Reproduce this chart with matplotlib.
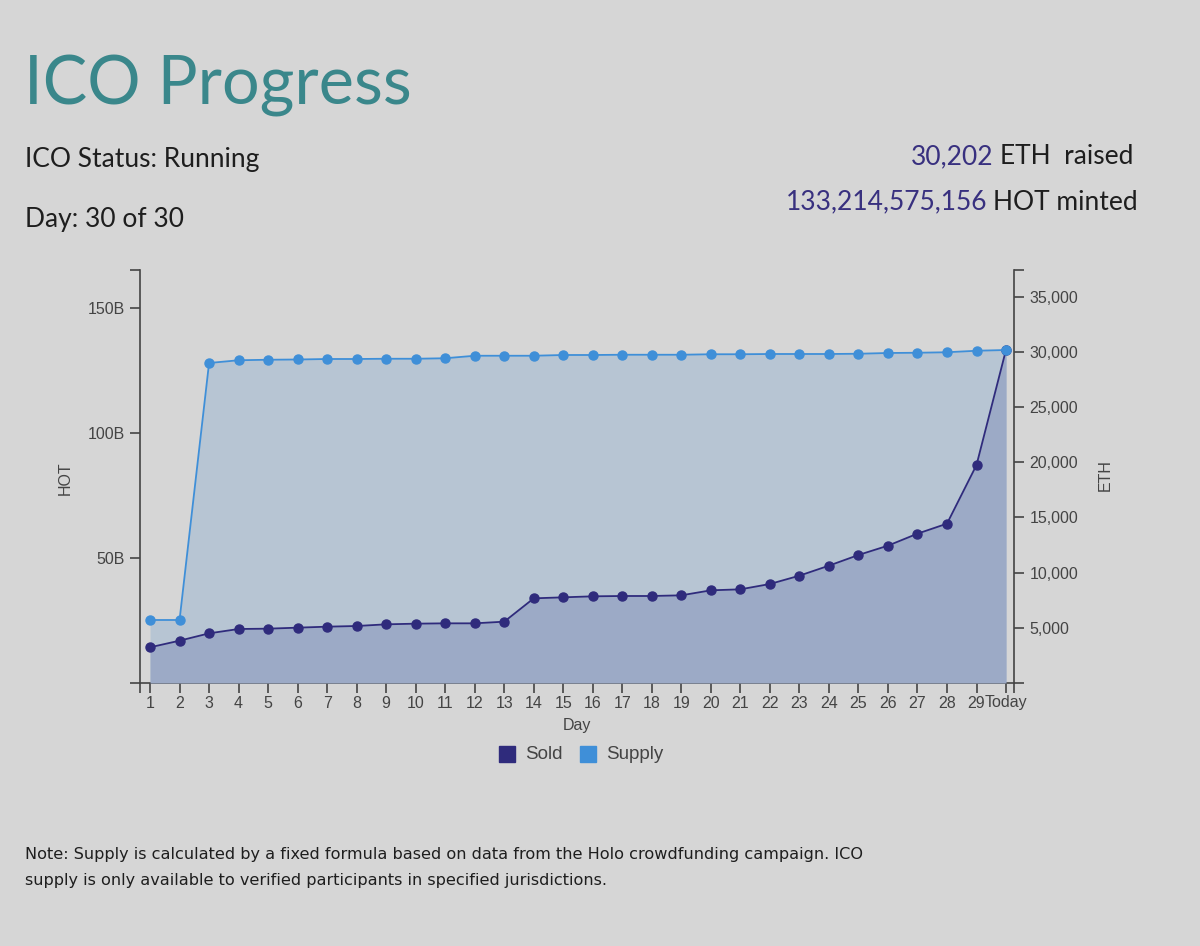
import matplotlib
matplotlib.use("Agg")
import matplotlib.pyplot as plt
from matplotlib.patches import Rectangle

days = list(range(1, 31))
day_labels = [str(d) for d in range(1, 30)] + ["Today"]
supply_hot_b = [25.2, 25.2, 128.0, 129.1, 129.3, 129.4, 129.6, 129.6, 129.7, 129.7,
                129.9, 130.9, 130.9, 130.9, 131.2, 131.2, 131.3, 131.3, 131.3, 131.5,
                131.5, 131.6, 131.6, 131.6, 131.7, 132.0, 132.1, 132.3, 132.9, 133.2]
sold_eth = [3235, 3835, 4500, 4894, 4924, 5015, 5105, 5166, 5317, 5377,
            5408, 5408, 5559, 7673, 7764, 7855, 7885, 7885, 7946, 8399,
            8489, 8972, 9727, 10634, 11601, 12447, 13535, 14441, 19757, 30202]
hot_ticks = [50, 100, 150]
hot_tick_labels = ["50B", "100B", "150B"]
eth_ticks = [5000, 10000, 15000, 20000, 25000, 30000, 35000]
eth_tick_labels = ["5,000", "10,000", "15,000", "20,000", "25,000", "30,000", "35,000"]

BG = "#d6d6d6"
SUPPLY_C = "#3f8fd8"
SOLD_C = "#2f2b7c"
SUPPLY_FILL = "#b7c5d3"
SOLD_FILL = "#9caac6"
AX_C = "#444444"

fig = plt.figure(figsize=(12, 9.46), dpi=100)
fig.patch.set_facecolor(BG)

L, R, B, T = 140/1200, 1014/1200, 1 - 683/946, 1 - 270/946
ax1 = fig.add_axes([L, B, R - L, T - B])
ax1.set_facecolor("none")
ax2 = ax1.twinx()
ax2.set_facecolor("none")

xmin, xmax = 0.66, 30.27
ax1.set_xlim(xmin, xmax)
ax1.set_ylim(0, 165.2)
ax2.set_ylim(0, 37430)

ax1.fill_between(days, 0, supply_hot_b, color=SUPPLY_FILL, lw=0, zorder=1)
ax2.fill_between(days, 0, sold_eth, color=SOLD_FILL, lw=0, zorder=1)
ax2.plot(days, sold_eth, color=SOLD_C, lw=1.3, marker="o", ms=6.5, zorder=3)
ax2.plot(days, supply_hot_b, color=SUPPLY_C, lw=1.3, marker="o", ms=6.5, zorder=4,
         transform=ax1.transData)

tick_font = dict(family=["Liberation Sans", "DejaVu Sans"], size=11.5)

for ax in (ax1, ax2):
    ax.spines["top"].set_visible(False)
    for sp in ax.spines.values():
        sp.set_color(AX_C)
        sp.set_linewidth(1.2)
ax1.spines["right"].set_visible(False)
ax2.spines["left"].set_visible(False)
ax2.spines["bottom"].set_visible(False)

ax1.set_xticks(days)
ax1.set_xticklabels(day_labels, **tick_font)
ax1.set_xticks([xmin, xmax], minor=True)
ax1.set_yticks(hot_ticks)
ax1.set_yticklabels(hot_tick_labels, **tick_font)
ax1.set_yticks([0, 165.2], minor=True)
ax2.set_yticks(eth_ticks)
ax2.set_yticklabels(eth_tick_labels, **tick_font)
ax2.set_yticks([0, 37430], minor=True)

ax1.tick_params(axis="both", which="both", length=7, width=1.2, color=AX_C,
                labelcolor=AX_C, direction="out")
ax1.tick_params(axis="x", which="major", pad=2)
ax1.tick_params(axis="y", which="major", pad=4)
ax2.tick_params(axis="y", which="both", length=7, width=1.2, color=AX_C,
                labelcolor=AX_C, direction="out", pad=4)

lab_font = dict(fontsize=11.5, family=["Liberation Sans"], color=AX_C)
fig.text(577/1200, 1 - 725/946, "Day", ha="center", va="center", **lab_font)
fig.text(65/1200, 1 - 478/946, "HOT", rotation=90, ha="center", va="center", **lab_font)
fig.text(1105/1200, 1 - 475/946, "ETH", rotation=90, ha="center", va="center", **lab_font)

# legend
for xs, col, lab in [(499, SOLD_C, "Sold"), (580, SUPPLY_C, "Supply")]:
    fig.patches.append(Rectangle((xs/1200, 1 - 762/946), 16/1200, 16/946,
                                 transform=fig.transFigure, color=col, zorder=5))
    fig.text((xs + 26)/1200, 1 - 754/946, lab, ha="left", va="center",
             fontsize=13.5, family=["Liberation Sans"], color=AX_C)

# header
TITLE_C = "#3a878b"
fig.text(24/1200, 1 - 86/946, "ICO Progress", ha="left", va="center",
         fontsize=48, family=["Lato", "DejaVu Sans"], fontweight="normal", color=TITLE_C)
head_font = dict(family=["Lato", "DejaVu Sans"], fontsize=19)
fig.text(25/1200, 1 - 160/946, "ICO Status: Running", ha="left", va="center",
         color="#1e1e1e", **head_font)
fig.text(25/1200, 1 - 219/946, "Day: 30 of 30", ha="left", va="center",
         color="#1e1e1e", **head_font)

NUM_C = "#38307f"
t1 = fig.text(1133/1200, 1 - 157/946, "ETH  raised", ha="right", va="center",
              color="#1e1e1e", **head_font)
t2 = fig.text(1138/1200, 1 - 202/946, "HOT minted", ha="right", va="center",
              color="#1e1e1e", **head_font)
fig.canvas.draw()
r = fig.canvas.get_renderer()
bb1 = t1.get_window_extent(r)
bb2 = t2.get_window_extent(r)
fig.text((bb1.x0 - 6)/1200, 1 - 157/946, "30,202", ha="right", va="center",
         color=NUM_C, **head_font)
fig.text((bb2.x0 - 6)/1200, 1 - 202/946, "133,214,575,156", ha="right", va="center",
         color=NUM_C, **head_font)

note = ("Note: Supply is calculated by a fixed formula based on data from the Holo "
        "crowdfunding campaign. ICO\nsupply is only available to verified participants "
        "in specified jurisdictions.")
fig.text(25/1200, 1 - 847/946, note, ha="left", va="top", fontsize=11.6,
         family=["DejaVu Sans"], color="#1e1e1e", linespacing=1.95)

fig.savefig("out.png", dpi=100, facecolor=BG)
